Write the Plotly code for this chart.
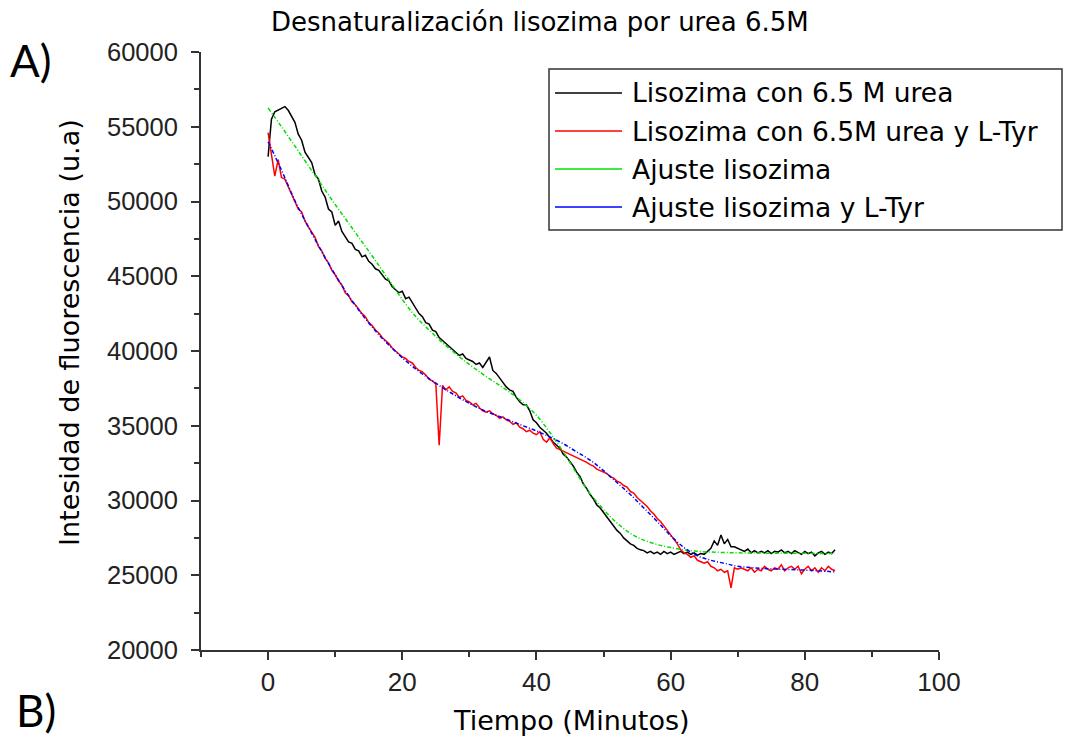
import plotly.graph_objects as go

# Tiempo de medida (minutos), cada 0.5 min
tiempo = [i * 0.5 for i in range(170)]

# Lisozima con 6.5 M urea (intensidad medida)
lisozima_urea = [
    53000, 55500, 56000, 56100, 56200, 56350, 56100, 55700, 55300, 54500,
    54100, 53300, 52900, 52600, 51800, 51500, 50700, 50300, 49500, 49300,
    48400, 48700, 48000, 47600, 47300, 47200, 46800, 46700, 46300, 46400,
    46000, 45800, 45500, 45400, 45100, 44800, 44700, 44300, 44100, 43900,
    44000, 43500, 43600, 43200, 42900, 42500, 42300, 41900, 41800, 41400,
    41300, 40900, 40700, 40500, 40300, 40100, 39900, 39700, 39800, 39500,
    39400, 39300, 39100, 39200, 38900, 39300, 39600, 38700, 38500, 38200,
    37900, 37600, 37400, 37300, 36900, 36600, 36400, 36400, 36000, 35400,
    35200, 34900, 34700, 34500, 34200, 33900, 33700, 33500, 33100, 32900,
    32600, 32300, 31900, 31600, 31100, 30800, 30400, 30100, 29700, 29500,
    29200, 28900, 28600, 28300, 28000, 27800, 27500, 27300, 27100, 27000,
    26800, 26700, 26650, 26500, 26600, 26450, 26550, 26400, 26600, 26450,
    26550, 26400, 26500, 26600, 26450, 26550, 26400, 26500, 26350, 26450,
    26400, 26600, 26800, 27300, 27000, 27700, 27100, 27400, 26900, 26900,
    26800, 26700, 26600, 26750, 26500, 26650, 26500, 26600, 26500, 26650,
    26450, 26600, 26550, 26700, 26500, 26600, 26450, 26650, 26550, 26400,
    26600, 26450, 26550, 26300, 26500, 26600, 26400, 26550, 26450, 26700,
]

# Lisozima con 6.5M urea y L-Tyr (intensidad medida)
lisozima_urea_tyr = [
    54600, 53200, 51700, 52800, 51600, 51500, 51000, 50500, 50100, 49500,
    49300, 48700, 48300, 47900, 47600, 47000, 46700, 46200, 45900, 45400,
    45100, 44700, 44400, 43900, 43700, 43300, 43100, 42800, 42500, 42300,
    41900, 41700, 41400, 41200, 40900, 40700, 40500, 40200, 40000, 39800,
    39600, 39500, 39300, 39200, 38900, 38700, 38600, 38400, 38100, 38000,
    37800, 33700, 37700, 37400, 37600, 37300, 37200, 36900, 37000, 36700,
    36600, 36400, 36500, 36200, 36000, 35900, 36000, 35800, 35700, 35500,
    35600, 35400, 35300, 35100, 35200, 34900, 34800, 34600, 34700, 34500,
    34400, 34600, 34100, 33900, 34200, 33800, 33500, 33400, 33300, 33200,
    33050, 33000, 32900, 32800, 32700, 32550, 32400, 32300, 32100, 32000,
    31900, 31800, 31600, 31500, 31300, 31200, 31000, 30900, 30600, 30500,
    30200, 30000, 29800, 29600, 29300, 29100, 28800, 28600, 28300, 28000,
    27700, 27400, 27100, 26700, 26500, 26400, 26200, 26300, 26000, 25900,
    25800, 25900, 25600, 25500, 25300, 25400, 25200, 25300, 24150, 25500,
    25400, 25500, 25400, 25300, 25500, 25200, 25400, 25300, 25600, 25400,
    25300, 25500, 25400, 25700, 25300, 25500, 25600, 25400, 25600, 25100,
    25400, 25600, 25300, 25500, 25200, 25500, 25300, 25600, 25400, 25300,
]

# Curvas de ajuste
tiempo_ajuste = [0, 2, 4, 6, 8, 10, 12, 14, 16, 18, 20, 22, 24, 26, 28, 30,
                 32, 34, 36, 38, 40, 42, 44, 46, 48, 50, 52, 54, 56, 58, 60,
                 62, 64, 66, 68, 70, 74, 78, 82, 84.5]
ajuste_lisozima = [
    56250, 55000, 53700, 52400, 51100, 49800, 48550, 47300, 46050, 44750,
    43450, 42300, 41400, 40550, 39800, 39100, 38450, 37850, 37250, 36550,
    35700, 34550, 33250, 31800, 30450, 29400, 28500, 27800, 27350, 27050,
    26850, 26700, 26600, 26550, 26520, 26500, 26480, 26470, 26460, 26450,
]
ajuste_lisozima_tyr = [
    54000, 52100, 50050, 48300, 46650, 45100, 43700, 42450, 41350, 40400,
    39550, 38800, 38150, 37550, 37000, 36500, 36050, 35700, 35350, 35000,
    34650, 34250, 33800, 33250, 32700, 32000, 31200, 30400, 29500, 28600,
    27650, 26850, 26300, 26000, 25800, 25600, 25450, 25380, 25300, 25220,
]

nombres = [
    "Lisozima con 6.5 M urea",
    "Lisozima con 6.5M urea y L-Tyr",
    "Ajuste lisozima",
    "Ajuste lisozima y L-Tyr",
]
colores = ["#000000", "#ff0000", "#00e000", "#0000ff"]

FONT = "Arial, Liberation Sans, sans-serif"
FONT_ANCHA = "DejaVu Sans, sans-serif"

fig = go.Figure()
fig.add_trace(go.Scatter(x=tiempo, y=lisozima_urea, mode="lines",
                         line=dict(color=colores[0], width=1.5), showlegend=False))
fig.add_trace(go.Scatter(x=tiempo, y=lisozima_urea_tyr, mode="lines",
                         line=dict(color=colores[1], width=1.5), showlegend=False))
fig.add_trace(go.Scatter(x=tiempo_ajuste, y=ajuste_lisozima, mode="lines",
                         line=dict(color=colores[2], width=1.5, dash="4px,2px,1px,2px",
                                   shape="spline"), showlegend=False))
fig.add_trace(go.Scatter(x=tiempo_ajuste, y=ajuste_lisozima_tyr, mode="lines",
                         line=dict(color=colores[3], width=1.5, dash="4px,2px,1px,2px",
                                   shape="spline"), showlegend=False))

W, H = 1073, 742
L, R, T, B = 201, 939, 52, 650
pw, ph = R - L, B - T


def px(xp):
    return (xp - L) / pw


def py(yp):
    return (B - yp) / ph


shapes = []
annotations = []

# Recuadro de la leyenda
shapes.append(dict(type="rect", xref="paper", yref="paper",
                   x0=px(549), x1=px(1062), y0=py(69), y1=py(230),
                   line=dict(color="#333333", width=1.5), fillcolor="rgba(0,0,0,0)"))
filas = [93, 131, 169, 207]
for nombre, color, yf in zip(nombres, colores, filas):
    shapes.append(dict(type="line", xref="paper", yref="paper",
                       x0=px(555), x1=px(622), y0=py(yf), y1=py(yf),
                       line=dict(color=color, width=1.5)))
    annotations.append(dict(text=nombre, xref="paper", yref="paper",
                            x=px(630), y=py(yf), xanchor="left", yanchor="middle",
                            showarrow=False, font=dict(family=FONT_ANCHA, size=26.5, color="#000")))

# Título y rótulos de ejes
annotations.append(dict(text="Desnaturalización lisozima por urea 6.5M", xref="paper", yref="paper",
                        x=px(540), y=py(22), xanchor="center", yanchor="middle",
                        showarrow=False, font=dict(family=FONT_ANCHA, size=26, color="#000")))
annotations.append(dict(text="Tiempo (Minutos)", xref="paper", yref="paper",
                        x=px(571), y=py(720), xanchor="center", yanchor="middle",
                        showarrow=False, font=dict(family=FONT_ANCHA, size=27, color="#000")))
annotations.append(dict(text="Intesidad de fluorescencia (u.a)", xref="paper", yref="paper",
                        x=px(69), y=py(333), xanchor="center", yanchor="middle", textangle=-90,
                        showarrow=False, font=dict(family=FONT_ANCHA, size=27, color="#000")))
annotations.append(dict(text="A)", xref="paper", yref="paper",
                        x=px(31), y=py(60), xanchor="center", yanchor="middle",
                        showarrow=False, font=dict(family="Lato, sans-serif", size=44, color="#000")))
annotations.append(dict(text="B)", xref="paper", yref="paper",
                        x=px(36), y=py(710), xanchor="center", yanchor="middle",
                        showarrow=False, font=dict(family="Lato, sans-serif", size=44, color="#000")))

fig.update_layout(
    width=W, height=H,
    margin=dict(l=L, r=W - R, t=T, b=H - B, pad=0),
    paper_bgcolor="white", plot_bgcolor="white",
    shapes=shapes, annotations=annotations,
    showlegend=False,
    xaxis=dict(range=[-10, 100], tick0=0, dtick=20, ticks="outside", ticklen=8, tickwidth=2,
               tickcolor="#333", showline=True, linecolor="#333", linewidth=2,
               showgrid=False, zeroline=False,
               tickfont=dict(family=FONT, size=26, color="#222"),
               minor=dict(dtick=10, tick0=0, ticks="outside", ticklen=5, tickwidth=2,
                          tickcolor="#333", showgrid=False)),
    yaxis=dict(range=[20000, 60000], tick0=20000, dtick=5000, ticks="outside", ticklen=8,
               tickwidth=2, tickcolor="#333", showline=True, linecolor="#333", linewidth=2,
               showgrid=False, zeroline=False, ticklabelstandoff=8, tickformat="d",
               tickfont=dict(family=FONT, size=25.5, color="#222"),
               minor=dict(dtick=2500, tick0=20000, ticks="outside", ticklen=5, tickwidth=2,
                          tickcolor="#333", showgrid=False)),
)

fig.write_html("out.html")
